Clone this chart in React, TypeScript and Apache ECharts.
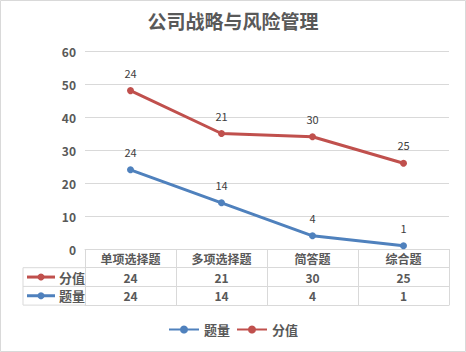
import React, { useEffect, useRef } from "react";
import * as echarts from "echarts";

const categories = ["单项选择题", "多项选择题", "简答题", "综合题"];
const countValues = [24, 14, 4, 1]; // 题量
const scoreValues = [24, 21, 30, 25]; // 分值
const seriesNames = ["题量", "分值"];
const titleText = "公司战略与风险管理";

const RED = "#c0504d";
const BLUE = "#4f81bd";
const TEXT = "#595959";
const LINE = "#d9d9d9";
const FONT = "'Noto Sans CJK SC', 'Noto Sans', sans-serif";

export default function App() {
  const ref = useRef<HTMLDivElement>(null);
  useEffect(() => {
    document.body.style.margin = "0";
    const chart = echarts.init(ref.current!, null, { renderer: "svg" });
    const W = 466, H = 352;
    const gl = 85, gr = 17, gt = 51, gb = 103;
    const axisY = H - gb; // 249
    const rowH = 18.7;
    const r1 = axisY + rowH, r2 = axisY + 2 * rowH, r3 = axisY + 3 * rowH;
    const leftX = 23;
    const mk = (y: number, color: string, name: string) => [
      { type: "line", shape: { x1: 27, y1: y, x2: 55, y2: y }, style: { stroke: color, lineWidth: 3 } },
      { type: "circle", shape: { cx: 41, cy: y, r: 3.5 }, style: { fill: color } },
      { type: "text", x: 59, y, style: { text: name, fill: TEXT, font: `bold 13px ${FONT}`, textVerticalAlign: "middle" } },
    ];
    const tableLabel = (offset: number, data: (string | number)[]) => ({
      type: "category",
      gridIndex: 0,
      position: "bottom",
      offset,
      data: data.map(String),
      boundaryGap: true,
      axisLine: { show: true, lineStyle: { color: LINE } },
      axisTick: { show: false },
      axisLabel: { show: true, color: TEXT, fontWeight: "bold", fontSize: 12, fontFamily: FONT, margin: rowH / 2, verticalAlign: "middle" },
    });
    chart.setOption({
      animation: false,
      title: {
        text: titleText, left: "center", top: 6,
        textStyle: { color: TEXT, fontSize: 19, fontWeight: "bold", fontFamily: FONT },
      },
      grid: { left: gl, right: gr, top: gt, bottom: gb, containLabel: false },
      legend: {
        top: 318, left: "center", itemWidth: 30, itemHeight: 10, itemGap: 6,
        data: seriesNames,
        textStyle: { color: TEXT, fontWeight: "bold", fontSize: 13, fontFamily: FONT },
      },
      xAxis: [
        {
          type: "category", data: categories, boundaryGap: true,
          axisLine: { show: true, lineStyle: { color: LINE } },
          axisTick: { show: true, length: 3 * rowH, lineStyle: { color: LINE } },
          axisLabel: { color: TEXT, fontWeight: "bold", fontSize: 12, fontFamily: FONT, margin: rowH / 2, verticalAlign: "middle" },
        },
        tableLabel(rowH, scoreValues),
        tableLabel(2 * rowH, countValues),
        { ...tableLabel(3 * rowH, countValues), axisLabel: { show: false } },
      ],
      yAxis: {
        type: "value", min: 0, max: 60, interval: 10,
        axisLine: { show: false }, axisTick: { show: false },
        axisLabel: { color: TEXT, fontWeight: "bold", fontSize: 12, fontFamily: FONT, margin: 9 },
        splitLine: { lineStyle: { color: LINE } },
      },
      series: [
        {
          name: seriesNames[0], type: "line", stack: "total", data: countValues,
          symbol: "circle", symbolSize: 7, color: BLUE,
          lineStyle: { width: 3, color: BLUE }, itemStyle: { color: BLUE },
          label: { show: true, position: "top", distance: 9, color: "#404040", fontSize: 11, fontFamily: FONT },
        },
        {
          name: seriesNames[1], type: "line", stack: "total", data: scoreValues,
          symbol: "circle", symbolSize: 7, color: RED,
          lineStyle: { width: 3, color: RED }, itemStyle: { color: RED },
          label: { show: true, position: "top", distance: 9, color: "#404040", fontSize: 11, fontFamily: FONT },
        },
      ],
      graphic: [
        { type: "rect", shape: { x: 0.5, y: 0.5, width: W - 1, height: H - 1 }, style: { fill: "none", stroke: LINE, lineWidth: 1 } },
        { type: "line", shape: { x1: leftX, y1: r1, x2: leftX, y2: r3 }, style: { stroke: LINE, lineWidth: 1 } },
        { type: "line", shape: { x1: leftX, y1: r1, x2: gl, y2: r1 }, style: { stroke: LINE, lineWidth: 1 } },
        { type: "line", shape: { x1: leftX, y1: r2, x2: gl, y2: r2 }, style: { stroke: LINE, lineWidth: 1 } },
        { type: "line", shape: { x1: leftX, y1: r3, x2: gl, y2: r3 }, style: { stroke: LINE, lineWidth: 1 } },
        ...mk((r1 + r2) / 2, RED, seriesNames[1]),
        ...mk((r2 + r3) / 2, BLUE, seriesNames[0]),
      ],
    });
    return () => chart.dispose();
  }, []);
  return <div ref={ref} style={{ width: 466, height: 352 }} />;
}
